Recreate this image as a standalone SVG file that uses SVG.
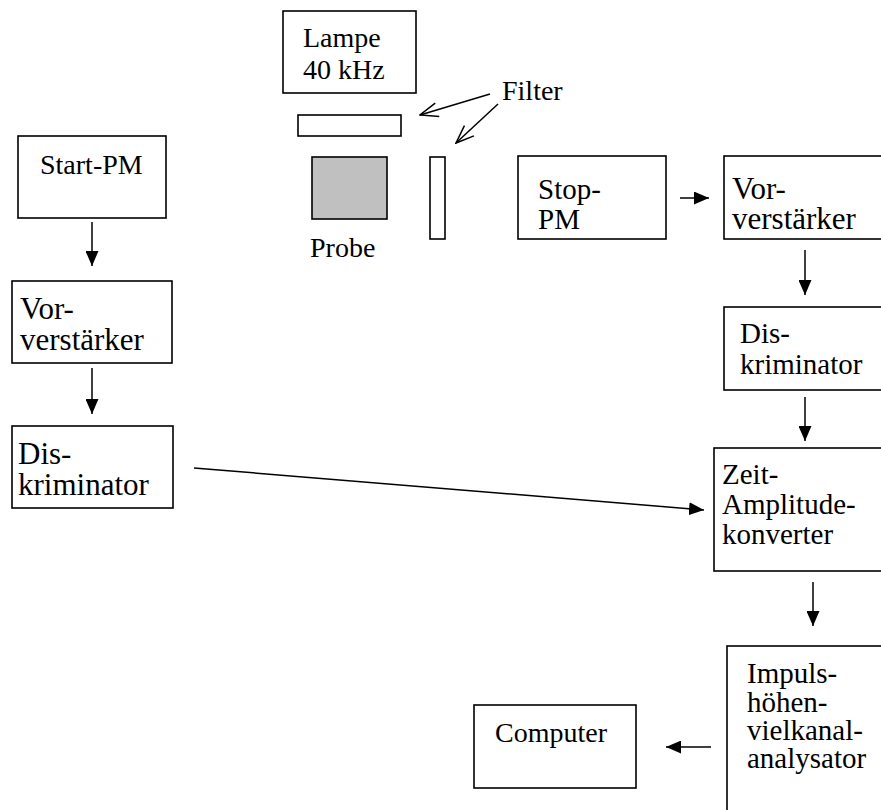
<svg xmlns="http://www.w3.org/2000/svg" width="881" height="810" viewBox="0 0 881 810">
<style>
.box{fill:#fff;stroke:#000;stroke-width:1.6}
.t{font-family:"Liberation Serif","Times New Roman",serif;font-size:29px;fill:#000}
.l{font-family:"Liberation Serif","Times New Roman",serif;font-size:31px;fill:#000}
.s{font-family:"Liberation Serif","Times New Roman",serif;font-size:28px;fill:#000}
.c{stroke:#000;stroke-width:1.5;fill:none}
</style>
<defs>
<marker id="ah" markerUnits="userSpaceOnUse" markerWidth="15" markerHeight="13" refX="15" refY="6.5" orient="auto">
<path d="M0,0 L15,6.5 L0,13 Z" fill="#000"/>
</marker>
<marker id="oh" markerUnits="userSpaceOnUse" markerWidth="20" markerHeight="16" refX="19" refY="8" orient="auto">
<path d="M1,1 L19,8 L1,15" fill="none" stroke="#000" stroke-width="1.5"/>
</marker>
</defs>
<rect width="881" height="810" fill="#fff"/>
<g id="lampe"><rect class="box" x="283" y="11" width="133" height="82"/><text class="s" x="303" y="47">Lampe</text><text class="s" x="303" y="79">40 kHz</text></g>
<g id="filter1"><rect class="box" x="298" y="115" width="103" height="21"/></g>
<g id="filter2"><rect class="box" x="430" y="157" width="15" height="82"/></g>
<g id="probe"><rect x="312" y="157" width="75" height="62" fill="#c0c0c0" stroke="#000" stroke-width="1.6"/><text class="s" x="310" y="257">Probe</text></g>
<g id="filterlabel"><text class="s" x="502" y="100">Filter</text></g>
<g id="start-pm"><rect class="box" x="18" y="136" width="148" height="82"/><text class="s" x="40" y="174">Start-PM</text></g>
<g id="vor-left"><rect class="box" x="12" y="281" width="160" height="82"/><text class="l" x="20" y="319">Vor-</text><text class="l" x="20" y="350">verstärker</text></g>
<g id="dis-left"><rect class="box" x="12" y="426" width="161" height="82"/><text class="l" x="18" y="464">Dis-</text><text class="l" x="18" y="495">kriminator</text></g>
<g id="stop-pm"><rect class="box" x="518" y="156" width="148" height="83"/><text class="t" x="538" y="199">Stop-</text><text class="t" x="538" y="229">PM</text></g>
<g id="vor-right"><rect class="box" x="724" y="156" width="200" height="83"/><text class="l" x="732" y="199">Vor-</text><text class="l" x="732" y="229">verstärker</text></g>
<g id="dis-right"><rect class="box" x="724" y="307" width="200" height="83"/><text class="t" x="740" y="343">Dis-</text><text class="t" x="740" y="374">kriminator</text></g>
<g id="tac"><rect class="box" x="714" y="448" width="210" height="123"/><text class="t" x="722" y="484">Zeit-</text><text class="t" x="722" y="514">Amplitude-</text><text class="t" x="722" y="544">konverter</text></g>
<g id="mca"><rect class="box" x="727" y="646" width="200" height="200"/><text class="t" x="747" y="683">Impuls-</text><text class="t" x="747" y="712">höhen-</text><text class="t" x="747" y="740">vielkanal-</text><text class="t" x="747" y="768">analysator</text></g>
<g id="computer"><rect class="box" x="474" y="705" width="162" height="83"/><text class="s" x="495" y="742">Computer</text></g>
<g id="connectors">
<line class="c" x1="490" y1="94" x2="420" y2="115" marker-end="url(#oh)"/>
<line class="c" x1="498" y1="104" x2="456" y2="143" marker-end="url(#oh)"/>
<line class="c" x1="92" y1="222" x2="92" y2="266" marker-end="url(#ah)"/>
<line class="c" x1="92" y1="368" x2="92" y2="414" marker-end="url(#ah)"/>
<line class="c" x1="194" y1="468" x2="704" y2="510" marker-end="url(#ah)"/>
<line class="c" x1="680" y1="198" x2="709" y2="198" marker-end="url(#ah)"/>
<line class="c" x1="805" y1="250" x2="805" y2="295" marker-end="url(#ah)"/>
<line class="c" x1="805" y1="397" x2="805" y2="441" marker-end="url(#ah)"/>
<line class="c" x1="813" y1="582" x2="813" y2="626" marker-end="url(#ah)"/>
<line class="c" x1="711" y1="747" x2="666" y2="747" marker-end="url(#ah)"/>
</g>
</svg>
